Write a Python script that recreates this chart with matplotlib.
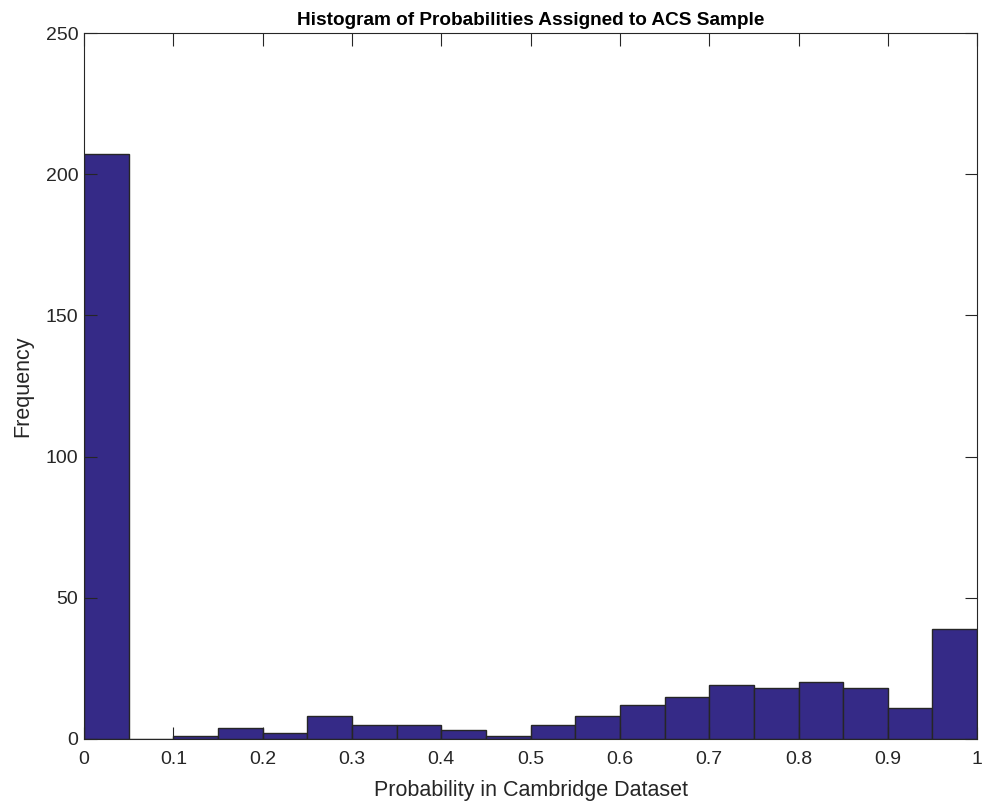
import numpy as np
import matplotlib.pyplot as plt

plt.rcParams['font.family'] = ['Liberation Sans', 'DejaVu Sans']

# histogram counts, 20 bins of width 0.05 on [0, 1]
bin_edges = np.linspace(0, 1, 21)
counts = [207, 0, 1, 4, 2, 8, 5, 5, 3, 1,
          5, 8, 12, 15, 19, 18, 20, 18, 11, 39]
xticks = [0, 0.1, 0.2, 0.3, 0.4, 0.5, 0.6, 0.7, 0.8, 0.9, 1]
xtick_labels = ['0', '0.1', '0.2', '0.3', '0.4', '0.5', '0.6', '0.7', '0.8', '0.9', '1']
yticks = [0, 50, 100, 150, 200, 250]

fig = plt.figure(figsize=(9.85, 8.07), dpi=100)
ax = fig.add_axes([0.0853, 0.0843, 0.9067, 0.8748])

ax.bar(bin_edges[:-1], counts, width=np.diff(bin_edges), align='edge',
       color='#352a87', edgecolor='#262626', linewidth=1.0)

ax.set_xlim(0, 1)
ax.set_ylim(0, 250)
ax.set_xticks(xticks)
ax.set_xticklabels(xtick_labels)
ax.set_yticks(yticks)
ax.tick_params(direction='in', top=True, right=True, length=9, width=0.8,
               labelsize=14, colors='#262626')
ax.tick_params(axis='x', pad=9)
ax.tick_params(axis='y', pad=4)
for s in ax.spines.values():
    s.set_linewidth(0.8)
    s.set_color('#262626')

ax.set_xlabel('Probability in Cambridge Dataset', fontsize=15.5, color='#262626', labelpad=8)
ax.set_ylabel('Frequency', fontsize=15.5, color='#262626', labelpad=9)
ax.set_title('Histogram of Probabilities Assigned to ACS Sample',
             fontsize=13.7, fontweight='bold', pad=6)

fig.savefig('out.png', dpi=100)
